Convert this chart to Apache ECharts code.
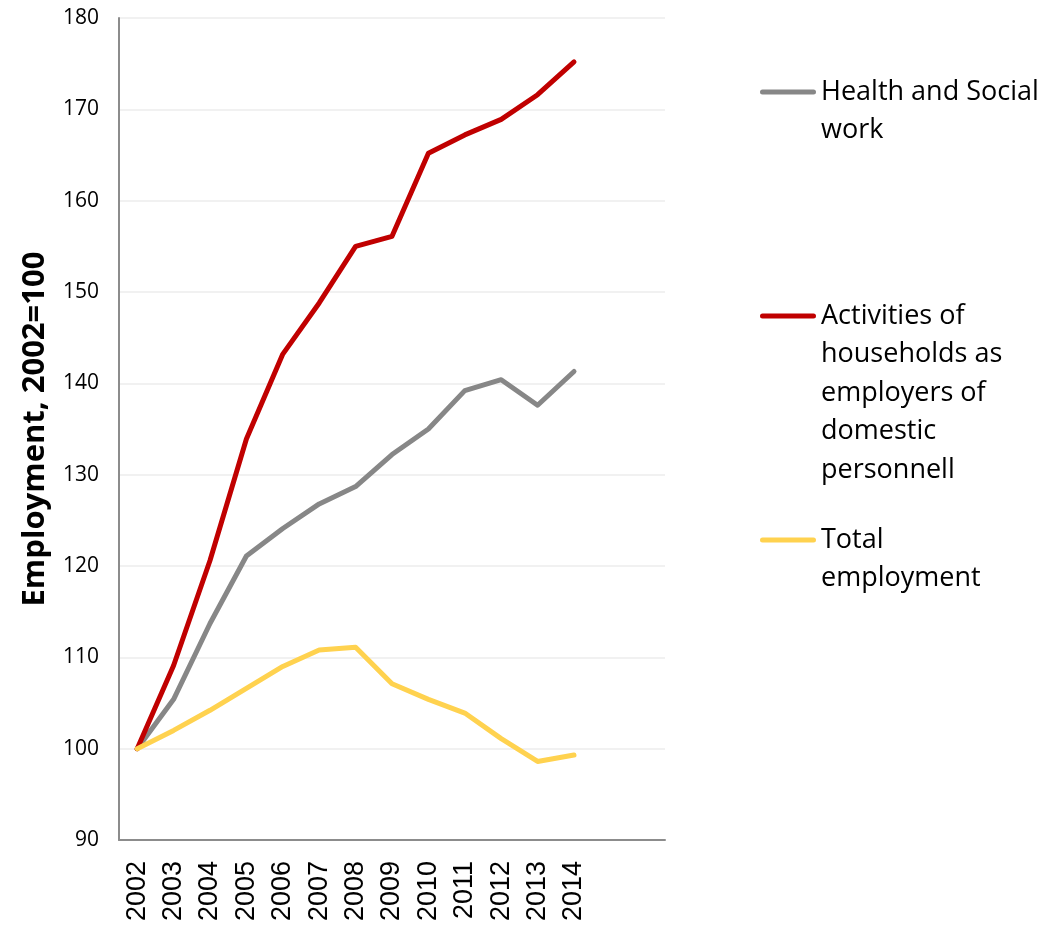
<!DOCTYPE html>
<html>
<head>
<meta charset="utf-8">
<script src="https://cdn.jsdelivr.net/npm/echarts@6/dist/echarts.min.js"></script>
<style>
  html, body { margin: 0; padding: 0; background: #fff; }
  #chart { width: 1048px; height: 926px; }
</style>
</head>
<body>
<div id="chart"></div>
<script>
// Employment index, 2002 = 100
const years = ['2002','2003','2004','2005','2006','2007','2008','2009','2010','2011','2012','2013','2014'];
// two unlabelled slots keep room to the right of the last year
const spareSlots = ['', ''];

const healthSocial = [100, 105.4, 113.7, 121.1, 124.1, 126.8, 128.7, 132.2, 135.0, 139.2, 140.4, 137.6, 141.3];
const households   = [100, 109.1, 120.6, 133.9, 143.2, 148.8, 155.0, 156.1, 165.2, 167.2, 168.9, 171.6, 175.2];
const totalEmp     = [100, 102.0, 104.2, 106.6, 109.0, 110.8, 111.1, 107.1, 105.4, 103.9, 101.1, 98.6, 99.3];

const yTicks = { min: 90, max: 180, step: 10 };

const names = ['Health and Social work', 'Activities of households as employers of domestic personnell', 'Total employment'];
const wrapped = {
  'Health and Social work': 'Health and Social\nwork',
  'Activities of households as employers of domestic personnell': 'Activities of\nhouseholds as\nemployers of\ndomestic\npersonnell',
  'Total employment': 'Total\nemployment'
};
const colors = ['#878787', '#C00000', '#FFD24F'];

const LH = 38.6;          // legend line height
const KEY_W = 56;         // legend key length
const KEY_T = 5;          // legend key thickness
// first-line centres of each legend entry
const legendLineY = [92, 316, 540];

// Key icon spanning the whole text block, with the coloured bar
// sitting level with the first line of text.
function keyPath(n) {
  const h = n * LH, c = LH / 2, r = KEY_T / 2;
  return 'path://' +
    `M0,0L0,${h}M${KEY_W},0L${KEY_W},${h}` +
    `M${r},${c - r}L${KEY_W - r},${c - r}` +
    `A${r},${r} 0 0 1 ${KEY_W - r},${c + r}` +
    `L${r},${c + r}A${r},${r} 0 0 1 ${r},${c - r}Z`;
}

function legendFor(i) {
  const n = wrapped[names[i]].split('\n').length;
  return {
    data: [names[i]],
    orient: 'vertical',
    left: 760,
    top: legendLineY[i] - LH / 2,
    padding: 0,
    itemWidth: KEY_W,
    itemHeight: n * LH,
    icon: keyPath(n),
    symbolKeepAspect: false,
    itemStyle: { borderWidth: 0 },
    formatter: (name) => wrapped[name],
    textStyle: {
      fontFamily: 'Open Sans',
      fontSize: 27,
      color: '#000',
      lineHeight: LH
    }
  };
}

const chart = echarts.init(document.getElementById('chart'), null, { renderer: 'canvas' });
chart.setOption({
  backgroundColor: '#fff',
  animation: false,
  color: colors,
  grid: { left: 119, top: 18, right: 383, bottom: 86, containLabel: false },
  legend: [legendFor(0), legendFor(1), legendFor(2)],
  xAxis: {
    type: 'category',
    data: years.concat(spareSlots),
    boundaryGap: true,
    axisLine: { lineStyle: { color: '#8c8c8c', width: 2 } },
    axisTick: { show: false },
    axisLabel: {
      rotate: 90,
      interval: 0,
      margin: 21,
      fontFamily: 'Liberation Sans',
      fontSize: 27,
      color: '#000'
    },
    splitLine: { show: false }
  },
  yAxis: {
    type: 'value',
    min: yTicks.min,
    max: yTicks.max,
    interval: yTicks.step,
    name: 'Employment, 2002=100',
    nameLocation: 'middle',
    nameGap: 68,
    nameTextStyle: {
      fontFamily: 'Open Sans',
      fontWeight: 'bold',
      fontSize: 31,
      color: '#000'
    },
    axisLine: { show: true, lineStyle: { color: '#8c8c8c', width: 2 } },
    axisTick: { show: false },
    axisLabel: {
      margin: 20,
      fontFamily: 'Open Sans',
      fontSize: 21,
      color: '#000'
    },
    splitLine: { lineStyle: { color: '#ececec', width: 1.5 } }
  },
  series: [
    { name: names[0], type: 'line', data: healthSocial, showSymbol: false, lineStyle: { width: 5, cap: 'round', join: 'round' } },
    { name: names[1], type: 'line', data: households, showSymbol: false, lineStyle: { width: 5, cap: 'round', join: 'round' } },
    { name: names[2], type: 'line', data: totalEmp, showSymbol: false, lineStyle: { width: 5, cap: 'round', join: 'round' } }
  ]
});
</script>
</body>
</html>
